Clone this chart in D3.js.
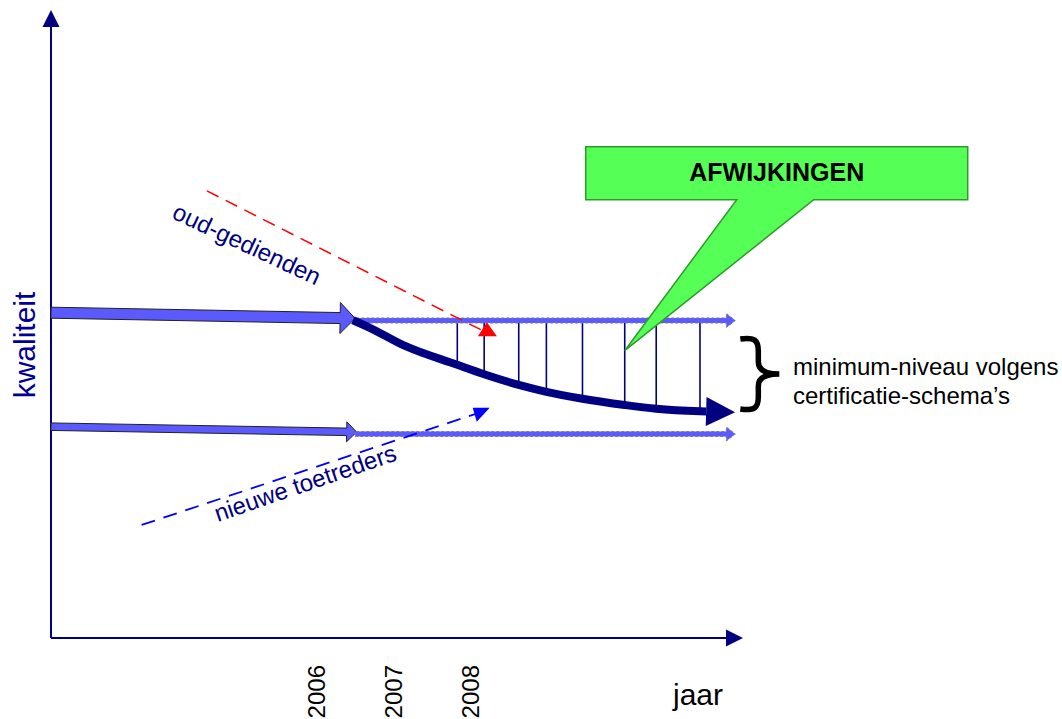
<!DOCTYPE html>
<html>
<head>
<meta charset="utf-8">
<script src="https://cdn.jsdelivr.net/npm/d3@7"></script>
<style>
  body { margin: 0; background: #fff; }
  svg { display: block; font-family: "Liberation Sans", Arial, sans-serif; }
</style>
</head>
<body>
<div id="vis-container"></div>
<script>
// tick labels on the time axis
const years = [2006, 2007, 2008];

// the two groups arriving up to 2006 (level on the quality axis, 0..100)
const groups = ["oud-gedienden", "nieuwe toetreders"];
const groupStartLevel = [51.8, 33.65];
const groupEndLevel = [50.9, 32.8];
const groupEndYear = [2006.50, 2006.52];
const groupShaft = [11, 7.5];
const groupHead = [31, 20];
const groupHeadLen = [15, 10];

// the dashed "expected" bands after 2006
const bandLevel = [50.56, 32.48];
const bandStartYear = 2006.5;
const bandEndYear = 2011.45;

// actual trend of the old-timers
const trendYear = [2006.47, 2006.69, 2007.15, 2007.83, 2008.18, 2008.63, 2008.99, 2009.46, 2010.01, 2010.42, 2010.99, 2011.07];
const trendLevel = [50.6, 49.4, 46.5, 43.5, 42.0, 40.3, 39.2, 38.1, 37.1, 36.5, 36.1, 36.07];

// deviations (vertical hatch lines)
const gapYear = [2007.83, 2008.18, 2008.63, 2008.99, 2009.46, 2010.01, 2010.42, 2010.99];
const gapLevel = [43.5, 42.0, 40.3, 39.2, 38.1, 37.1, 36.5, 36.1];
const gapTop = 50.9;

// dashed direction arrows
const oldDashYear = [2004.57, 2008.15];
const oldDashLevel = [71.2, 49.0];
const newDashYear = [2003.72, 2008.07];
const newDashLevel = [18.0, 35.7];

const W = 1062, H = 719;
const navy = "#000080";
const flowBlue = "#5a5aff";

const svg = d3.select("#vis-container")
    .append("svg")
    .attr("width", W)
    .attr("height", H);

const x = d3.scaleLinear().domain([2002.54, 2011.55]).range([51, 743]);
const y = d3.scaleLinear().domain([0, 100]).range([638, 10]);

const defs = svg.append("defs");

function marker(id, path, color, orient) {
    defs.append("marker")
        .attr("id", id)
        .attr("markerUnits", "userSpaceOnUse")
        .attr("markerWidth", 40).attr("markerHeight", 40)
        .attr("refX", 0).attr("refY", 0)
        .attr("orient", orient)
        .attr("overflow", "visible")
        .append("path")
        .attr("d", path)
        .attr("fill", color);
}
marker("axisHead", "M0,-8.5 L17,0 L0,8.5 Z", navy, "auto");
marker("trendHead", "M0,-14.5 L29,0 L0,14.5 Z", navy, "auto");
marker("redHead", "M-4,6 L5,-8 L15,6 Z", "#ff0000", "0");
marker("blueHead", "M-3,-6 L14,-6 L1,8 Z", "#0000ff", "0");

// block arrow polygon between two pixel points
function arrowPoly(p0, p1, shaft, head, headLen) {
    const dx = p1[0] - p0[0], dy = p1[1] - p0[1];
    const len = Math.hypot(dx, dy);
    const ux = dx / len, uy = dy / len, nx = -uy, ny = ux;
    const bx = p1[0] - ux * headLen, by = p1[1] - uy * headLen;
    const s = shaft / 2, h = head / 2;
    return [
        [p0[0] + nx * s, p0[1] + ny * s],
        [bx + nx * s, by + ny * s],
        [bx + nx * h, by + ny * h],
        p1,
        [bx - nx * h, by - ny * h],
        [bx - nx * s, by - ny * s],
        [p0[0] - nx * s, p0[1] - ny * s]
    ];
}

// axes
svg.append("line")
    .attr("x1", x.range()[0]).attr("y1", y(0))
    .attr("x2", x.range()[0]).attr("y2", y(100) + 17)
    .attr("stroke", navy).attr("stroke-width", 2)
    .attr("marker-end", "url(#axisHead)");
svg.append("line")
    .attr("x1", x.range()[0]).attr("y1", y(0))
    .attr("x2", x.range()[1] - 17).attr("y2", y(0))
    .attr("stroke", navy).attr("stroke-width", 2)
    .attr("marker-end", "url(#axisHead)");

const xAxis = svg.append("g")
    .attr("transform", `translate(0, ${y(0)})`)
    .call(d3.axisBottom(x).tickValues(years).tickSize(0).tickFormat(d3.format("d")));
xAxis.select(".domain").remove();
xAxis.selectAll("text")
    .attr("transform", "rotate(-90)")
    .attr("text-anchor", "end")
    .attr("x", -27)
    .attr("y", 8)
    .attr("dy", 0)
    .attr("fill", "#000")
    .style("font-size", "24px")
    .style("font-family", "'Liberation Sans', Arial, sans-serif");

svg.append("text")
    .attr("transform", `translate(35, 345) rotate(-90)`)
    .attr("text-anchor", "middle")
    .attr("fill", "#000099")
    .style("font-size", "30px")
    .text("kwaliteit");

svg.append("text")
    .attr("x", 673).attr("y", 705)
    .attr("fill", "#000")
    .style("font-size", "30px")
    .text("jaar");

// block arrows up to 2006
groups.forEach((g, i) => {
    const pts = arrowPoly(
        [x(x.domain()[0]), y(groupStartLevel[i])],
        [x(groupEndYear[i]), y(groupEndLevel[i])],
        groupShaft[i], groupHead[i], groupHeadLen[i]);
    svg.append("path")
        .attr("d", d3.line()(pts) + "Z")
        .attr("fill", flowBlue)
        .attr("stroke", "#222")
        .attr("stroke-width", 1);
});

// hatch lines (deviations)
svg.selectAll("line.gap")
    .data(gapYear)
    .enter().append("line")
    .attr("class", "gap")
    .attr("x1", d => x(d)).attr("x2", d => x(d))
    .attr("y1", y(gapTop))
    .attr("y2", (d, i) => y(gapLevel[i]))
    .attr("stroke", navy)
    .attr("stroke-width", 1.6);

// dashed bands
bandLevel.forEach(lv => {
    const pts = arrowPoly([x(bandStartYear), y(lv)], [x(bandEndYear), y(lv)], 5, 14, 9);
    svg.append("path")
        .attr("d", d3.line()(pts) + "Z")
        .attr("fill", flowBlue)
        .attr("stroke", "#7a7a9a")
        .attr("stroke-width", 1)
        .attr("stroke-dasharray", "3,2");
});

// trend of the old-timers
svg.append("path")
    .datum(trendYear.map((d, i) => [d, trendLevel[i]]))
    .attr("fill", "none")
    .attr("stroke", navy)
    .attr("stroke-width", 8)
    .attr("marker-end", "url(#trendHead)")
    .attr("d", d3.line()
        .x(d => x(d[0]))
        .y(d => y(d[1]))
        .curve(d3.curveMonotoneX));

// dashed direction arrows
svg.append("line")
    .attr("x1", x(oldDashYear[0])).attr("y1", y(oldDashLevel[0]))
    .attr("x2", x(oldDashYear[1])).attr("y2", y(oldDashLevel[1]))
    .attr("stroke", "#ff0000").attr("stroke-width", 1.5)
    .attr("stroke-dasharray", "13,8")
    .attr("marker-end", "url(#redHead)");
svg.append("line")
    .attr("x1", x(newDashYear[0])).attr("y1", y(newDashLevel[0]))
    .attr("x2", x(newDashYear[1])).attr("y2", y(newDashLevel[1]))
    .attr("stroke", "#0000ff").attr("stroke-width", 1.8)
    .attr("stroke-dasharray", "14,9")
    .attr("marker-end", "url(#blueHead)");

svg.append("text")
    .attr("transform", `translate(${x(2004.10)}, ${y(66.9)}) rotate(25)`)
    .attr("fill", navy)
    .style("font-size", "24px")
    .text("oud-gedienden");
svg.append("text")
    .attr("transform", `translate(${x(2004.71)}, ${y(18.47)}) rotate(-19)`)
    .attr("fill", navy)
    .style("font-size", "24px")
    .text("nieuwe toetreders");

// brace + minimum level label
const bTop = y(47.93), bBot = y(36.15), bMid = (bTop + bBot) / 2;
const bL = x(bandEndYear) + 5, bS = bL + 18, bR = bL + 39;
svg.append("path")
    .attr("d", `M${bL},${bTop + 2} C${bS - 4},${bTop} ${bS},${bTop + 3} ${bS},${bTop + 14}
        L${bS},${bMid - 12} C${bS},${bMid - 3} ${bS + 8},${bMid} ${bR},${bMid}
        C${bS + 8},${bMid} ${bS},${bMid + 3} ${bS},${bMid + 12}
        L${bS},${bBot - 14} C${bS},${bBot - 3} ${bS - 4},${bBot} ${bL},${bBot - 2}`)
    .attr("fill", "none")
    .attr("stroke", "#000")
    .attr("stroke-width", 5.5);

svg.append("text")
    .attr("x", 793).attr("y", 375)
    .style("font-size", "24px")
    .text("minimum-niveau volgens");
svg.append("text")
    .attr("x", 793).attr("y", 404)
    .style("font-size", "24px")
    .text("certificatie-schema’s");

// callout pointing at the deviations
const tx = x(2010.01), ty = y(45.75);
svg.append("path")
    .attr("d", `M${tx - 39},${ty - 204} H${tx + 343} V${ty - 151} H${tx + 189}
        L${tx},${ty} L${tx + 112},${ty - 151} H${tx - 39} Z`)
    .attr("fill", "#55ff55")
    .attr("stroke", "#2e9a2e")
    .attr("stroke-width", 1.5);
svg.append("text")
    .attr("x", tx + 152).attr("y", ty - 170)
    .attr("text-anchor", "middle")
    .style("font-size", "25px")
    .style("font-weight", "bold")
    .text("AFWIJKINGEN");
</script>
</body>
</html>
